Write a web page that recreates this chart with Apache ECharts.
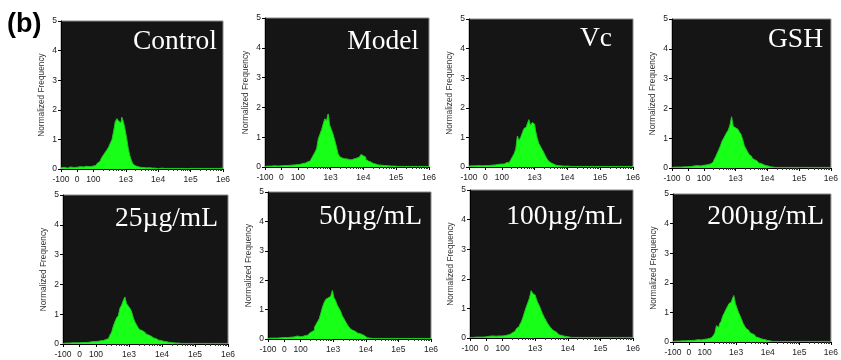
<!DOCTYPE html>
<html>
<head>
<meta charset="utf-8">
<script src="https://cdn.jsdelivr.net/npm/echarts@6/dist/echarts.min.js"></script>
<style>
  html, body { margin: 0; padding: 0; background: #fff; }
  #chart { width: 841px; height: 360px; }
</style>
</head>
<body>
<div id="chart"></div>
<script>
// --- Data ---
// x positions on the biexponential display scale:
// 0 = -100, 0.5 = 0, 1 = 100, 2 = 1e3, 3 = 1e4, 4 = 1e5, 5 = 1e6
const binPos = [
  0, 0.1, 0.2, 0.3, 0.4, 0.5, 0.6, 0.7, 0.8, 0.9, 1.0,
  1.05, 1.1, 1.15, 1.2, 1.25, 1.3, 1.35, 1.4, 1.45, 1.5,
  1.55, 1.6, 1.65, 1.7, 1.75, 1.8, 1.85, 1.9, 1.95, 2.0,
  2.05, 2.1, 2.15, 2.2, 2.25, 2.3, 2.35, 2.4, 2.45, 2.5,
  2.55, 2.6, 2.65, 2.7, 2.75, 2.8, 2.85, 2.9, 2.95, 3.0,
  3.05, 3.1, 3.15, 3.2, 3.25, 3.3, 3.35, 3.4, 3.45, 3.5,
  3.6, 3.7, 3.8, 3.9, 4.0, 4.1, 4.2, 4.3, 4.4, 4.5, 4.6, 4.7, 4.8, 4.9, 5.0
];

const tickPos = [0, 0.5, 1, 2, 3, 4, 5];
const tickLabels = ['-100', '0', '100', '1e3', '1e4', '1e5', '1e6'];

const panelNames = ['Control', 'Model', 'Vc', 'GSH', '25µg/mL', '50µg/mL', '100µg/mL', '200µg/mL'];

const controlFreq = [
  0.04, 0.06, 0.03, 0.07, 0.05, 0.06, 0.08, 0.07, 0.09, 0.08, 0.10,
  0.12, 0.14, 0.20, 0.25, 0.32, 0.42, 0.50, 0.58, 0.66, 0.75,
  0.88, 1.00, 1.28, 1.60, 1.70, 1.62, 1.56, 1.75, 1.60, 1.35,
  1.05, 0.70, 0.45, 0.28, 0.16, 0.11, 0.08, 0.07, 0.06, 0.05,
  0.05, 0.04, 0.04, 0.03, 0.04, 0.03, 0.03, 0.03, 0.02, 0.03,
  0.02, 0.03, 0.02, 0.02, 0.02, 0.02, 0.02, 0.02, 0.02, 0.02,
  0.02, 0.02, 0.02, 0.01, 0.02, 0.02, 0.02, 0.02, 0.02, 0.02, 0.02, 0.02, 0.02, 0.02, 0.03
];
const modelFreq = [
  0.02, 0.03, 0.03, 0.04, 0.03, 0.04, 0.05, 0.05, 0.06, 0.07, 0.08,
  0.09, 0.10, 0.12, 0.13, 0.15, 0.17, 0.20, 0.24, 0.30, 0.40,
  0.50, 0.62, 0.95, 1.10, 1.25, 1.45, 1.62, 1.55, 1.78, 1.40,
  1.25, 1.10, 0.90, 0.70, 0.45, 0.35, 0.30, 0.28, 0.30, 0.27,
  0.25, 0.27, 0.24, 0.28, 0.30, 0.30, 0.33, 0.38, 0.42, 0.38,
  0.33, 0.25, 0.20, 0.17, 0.14, 0.12, 0.10, 0.08, 0.07, 0.06,
  0.05, 0.04, 0.03, 0.03, 0.02, 0.02, 0.02, 0.02, 0.02, 0.02, 0.02, 0.02, 0.02, 0.02, 0.02
];
const vcFreq = [
  0.03, 0.04, 0.04, 0.05, 0.04, 0.05, 0.05, 0.06, 0.07, 0.09, 0.10,
  0.10, 0.12, 0.15, 0.14, 0.20, 0.25, 0.35, 0.45, 0.60, 1.05,
  0.90, 1.00, 1.15, 1.30, 1.35, 1.45, 1.60, 1.40, 1.50, 1.45,
  1.25, 1.00, 0.80, 0.70, 0.60, 0.50, 0.38, 0.28, 0.20, 0.14,
  0.10, 0.08, 0.06, 0.05, 0.04, 0.04, 0.03, 0.03, 0.03, 0.03,
  0.02, 0.02, 0.02, 0.02, 0.02, 0.02, 0.02, 0.02, 0.02, 0.02,
  0.02, 0.02, 0.02, 0.02, 0.02, 0.02, 0.02, 0.02, 0.02, 0.02, 0.02, 0.02, 0.02, 0.02, 0.02
];
const gshFreq = [
  0.02, 0.03, 0.03, 0.03, 0.04, 0.04, 0.05, 0.07, 0.08, 0.07, 0.09,
  0.10, 0.10, 0.12, 0.14, 0.17, 0.20, 0.28, 0.38, 0.50, 0.62,
  0.75, 0.90, 1.00, 1.10, 1.20, 1.28, 1.45, 1.72, 1.40, 1.35,
  1.30, 1.25, 1.20, 1.12, 0.95, 0.75, 0.65, 0.55, 0.45, 0.40,
  0.33, 0.28, 0.24, 0.20, 0.17, 0.15, 0.12, 0.10, 0.08, 0.07,
  0.05, 0.04, 0.03, 0.03, 0.02, 0.02, 0.02, 0.02, 0.02, 0.02,
  0.02, 0.02, 0.02, 0.02, 0.02, 0.02, 0.02, 0.02, 0.02, 0.02, 0.02, 0.02, 0.02, 0.02, 0.02
];
const dose25Freq = [
  0.02, 0.03, 0.03, 0.04, 0.04, 0.04, 0.05, 0.05, 0.06, 0.08, 0.08,
  0.09, 0.10, 0.11, 0.12, 0.13, 0.15, 0.18, 0.22, 0.30, 0.40,
  0.60, 0.75, 0.88, 0.95, 1.20, 1.30, 1.45, 1.58, 1.35, 1.28,
  1.20, 1.10, 0.90, 0.75, 0.65, 0.55, 0.48, 0.45, 0.40, 0.36,
  0.33, 0.30, 0.26, 0.22, 0.20, 0.18, 0.15, 0.13, 0.12, 0.10,
  0.09, 0.08, 0.07, 0.06, 0.05, 0.04, 0.04, 0.03, 0.03, 0.03,
  0.02, 0.02, 0.02, 0.02, 0.02, 0.02, 0.02, 0.02, 0.02, 0.02, 0.02, 0.02, 0.02, 0.02, 0.02
];
const dose50Freq = [
  0.02, 0.03, 0.03, 0.03, 0.04, 0.05, 0.05, 0.06, 0.07, 0.10, 0.08,
  0.09, 0.10, 0.12, 0.13, 0.15, 0.20, 0.25, 0.30, 0.40, 0.50,
  0.60, 0.70, 0.90, 1.10, 1.25, 1.35, 1.40, 1.45, 1.50, 1.65,
  1.40, 1.30, 1.15, 1.05, 0.95, 0.80, 0.70, 0.60, 0.50, 0.42,
  0.35, 0.30, 0.26, 0.23, 0.20, 0.18, 0.16, 0.15, 0.10, 0.06,
  0.04, 0.03, 0.03, 0.02, 0.02, 0.02, 0.02, 0.02, 0.02, 0.02,
  0.02, 0.02, 0.02, 0.02, 0.02, 0.02, 0.02, 0.02, 0.02, 0.02, 0.02, 0.02, 0.02, 0.02, 0.02
];
const dose100Freq = [
  0.02, 0.02, 0.03, 0.03, 0.03, 0.04, 0.06, 0.07, 0.06, 0.07, 0.07,
  0.08, 0.09, 0.10, 0.12, 0.15, 0.18, 0.22, 0.27, 0.32, 0.38,
  0.45, 0.55, 0.70, 0.88, 1.05, 1.20, 1.35, 1.60, 1.50, 1.45,
  1.35, 1.20, 1.10, 0.95, 0.82, 0.70, 0.60, 0.50, 0.42, 0.35,
  0.28, 0.23, 0.18, 0.14, 0.11, 0.09, 0.07, 0.06, 0.05, 0.04,
  0.03, 0.02, 0.02, 0.02, 0.02, 0.02, 0.02, 0.02, 0.02, 0.02,
  0.02, 0.02, 0.02, 0.02, 0.02, 0.02, 0.02, 0.02, 0.02, 0.02, 0.02, 0.02, 0.02, 0.02, 0.02
];
const dose200Freq = [
  0.02, 0.03, 0.03, 0.04, 0.04, 0.05, 0.05, 0.06, 0.08, 0.07, 0.09,
  0.10, 0.11, 0.12, 0.15, 0.18, 0.22, 0.30, 0.55, 0.50, 0.62,
  0.70, 0.88, 0.98, 1.10, 1.20, 1.30, 1.35, 1.45, 1.57, 1.30,
  1.15, 1.00, 0.88, 0.75, 0.62, 0.52, 0.45, 0.40, 0.33, 0.28,
  0.25, 0.20, 0.17, 0.15, 0.12, 0.10, 0.09, 0.08, 0.06, 0.05,
  0.04, 0.03, 0.02, 0.02, 0.02, 0.02, 0.02, 0.02, 0.02, 0.02,
  0.02, 0.02, 0.02, 0.02, 0.02, 0.02, 0.02, 0.02, 0.02, 0.02, 0.02, 0.02, 0.02, 0.02, 0.02
];

const panelFreqs = [controlFreq, modelFreq, vcFreq, gshFreq, dose25Freq, dose50Freq, dose100Freq, dose200Freq];

// --- Layout (plot boxes in px, title right edge / top) ---
const boxes = [
  { left: 61, top: 21, width: 162, height: 148, tRight: 217, tTop: 28 },
  { left: 265, top: 18, width: 164, height: 149, tRight: 419, tTop: 28 },
  { left: 469, top: 19, width: 164, height: 148, tRight: 612, tTop: 25 },
  { left: 672, top: 19, width: 164, height: 149, tRight: 823, tTop: 26 },
  { left: 63, top: 195, width: 165, height: 149, tRight: 218, tTop: 205 },
  { left: 268, top: 192, width: 163, height: 147, tRight: 422, tTop: 203 },
  { left: 470, top: 190, width: 163, height: 148, tRight: 623, tTop: 203 },
  { left: 673, top: 194, width: 164, height: 148, tRight: 824, tTop: 203 }
];

// log minor ticks between 100 and 1e6
const minorTicks = [];
for (let d = 1; d < 5; d++) {
  for (let k = 2; k <= 9; k++) minorTicks.push(d + Math.log10(k));
}

const chart = echarts.init(document.getElementById('chart'));

const grid = [], xAxis = [], yAxis = [], series = [];
const title = [{
  text: '(b)', left: 7, top: 11, padding: 0,
  textStyle: { fontFamily: 'Liberation Sans', fontSize: 27, fontWeight: 'bold', color: '#000' }
}];

boxes.forEach((b, i) => {
  grid.push({
    left: b.left, top: b.top, width: b.width, height: b.height,
    show: true, backgroundColor: '#151515', borderColor: '#8a8a8a', borderWidth: 1
  });
  xAxis.push({
    type: 'value', gridIndex: i, min: 0, max: 5,
    axisLine: { show: true, lineStyle: { color: '#000', width: 1 } },
    axisTick: { show: true, length: 3, customValues: tickPos, lineStyle: { color: '#000' } },
    axisLabel: {
      customValues: tickPos, margin: 6,
      fontFamily: 'Liberation Sans', fontSize: 8.5, color: '#222',
      formatter: v => tickLabels[tickPos.indexOf(v)] ?? ''
    },
    splitLine: { show: false }
  });
  xAxis.push({
    type: 'value', gridIndex: i, min: 0, max: 5, position: 'bottom',
    axisLine: { show: false },
    axisTick: { show: true, length: 2, customValues: minorTicks, lineStyle: { color: '#333' } },
    axisLabel: { show: false },
    splitLine: { show: false }
  });
  yAxis.push({
    type: 'value', gridIndex: i, min: 0, max: 5, interval: 1,
    name: 'Normalized Frequency', nameLocation: 'middle', nameGap: 15,
    nameTextStyle: { fontFamily: 'Liberation Sans', fontSize: 8.3, color: '#333' },
    axisLine: { show: true, lineStyle: { color: '#000', width: 1 } },
    axisTick: { show: true, length: 3, lineStyle: { color: '#000' } },
    axisLabel: { margin: 4, fontFamily: 'Liberation Sans', fontSize: 8.5, color: '#222' },
    splitLine: { show: false }
  });
  series.push({
    type: 'line', xAxisIndex: 2 * i, yAxisIndex: i,
    step: 'middle', symbol: 'none', silent: true,
    lineStyle: { color: '#1fc81f', width: 1 },
    areaStyle: { color: '#18ff18', opacity: 1 },
    data: binPos.map((x, j) => [x, panelFreqs[i][j]])
  });
  title.push({
    text: panelNames[i], right: 841 - b.tRight, top: b.tTop, padding: 0,
    textStyle: { fontFamily: 'Liberation Serif', fontSize: 27.5, fontWeight: 'normal', color: '#fff' }
  });
});

chart.setOption({
  animation: false,
  backgroundColor: '#fff',
  title, grid, xAxis, yAxis, series
});
</script>
</body>
</html>
